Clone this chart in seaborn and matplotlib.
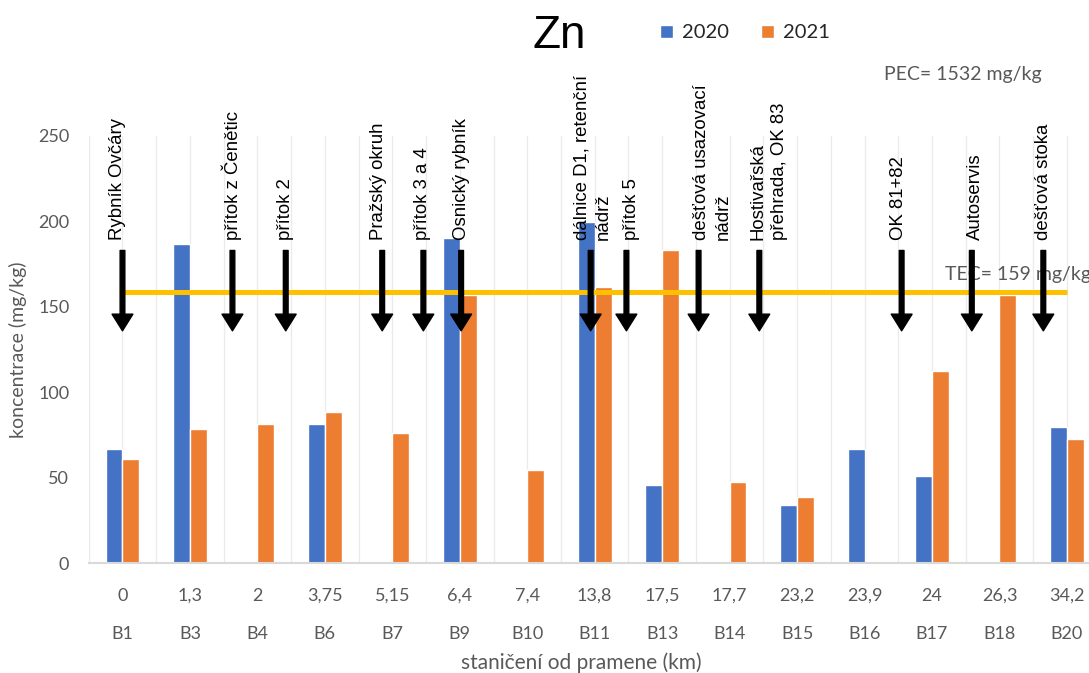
import numpy as np
import pandas as pd
import matplotlib
matplotlib.use("Agg")
import matplotlib.pyplot as plt
import seaborn as sns

# --- data -------------------------------------------------------------
stations = ["B1", "B3", "B4", "B6", "B7", "B9", "B10", "B11",
            "B13", "B14", "B15", "B16", "B17", "B18", "B20"]
km = ["0", "1,3", "2", "3,75", "5,15", "6,4", "7,4", "13,8",
      "17,5", "17,7", "23,2", "23,9", "24", "26,3", "34,2"]
zn_2020 = [67, 187, np.nan, 81.5, np.nan, 190.5, np.nan, 199.5,
           46, np.nan, 34, 67, 51, np.nan, 80]
zn_2021 = [61, 78.5, 81.5, 88.5, 76.5, 157, 54.5, 161.5,
           183.5, 47.5, 39, np.nan, 112.5, 157, 73]
years = ["2020", "2021"]
TEC = 159
PEC = 1532

sources = ["Rybník Ovčáry", "přítok z Čenětic", "přítok 2", "Pražský okruh",
           "přítok 3 a 4", "Osnický rybník", "dálnice D1, retenční\nnádrž",
           "přítok 5", "dešťová usazovací\nnádrž", "Hostivařská\npřehrada, OK 83",
           "OK 81+82", "Autoservis", "dešťová stoka"]

# where each inflow / source enters the stream, in station-axis units
source_arrow_x = [0.0, 1.63, 2.42, 3.85, 4.46, 5.02, 6.94, 7.47,
                  8.54, 9.44, 11.55, 12.59, 13.65]
source_label_x = [-0.07, 1.62, 2.41, 3.79, 4.45, 5.03, 6.97, 7.54,
                  8.75, 9.58, 11.51, 12.64, 13.65]

df = pd.DataFrame({
    "station": stations * 2,
    "year": [years[0]] * len(stations) + [years[1]] * len(stations),
    "zn": zn_2020 + zn_2021,
}).dropna()

# --- style ------------------------------------------------------------
sns.set_theme(style="white")
plt.rcParams["font.family"] = ["Lato", "DejaVu Sans"]
GREY = "#595959"
BLUE = "#4472C4"
ORANGE = "#ED7D31"
ARIAL = ["Liberation Sans", "DejaVu Sans"]

fig = plt.figure(figsize=(10.89, 6.73), dpi=100)
ax = fig.add_axes([0.0815, 0.163, 0.9292, 0.635])

sns.barplot(data=df, x="station", y="zn", hue="year", order=stations,
            hue_order=years, palette=[BLUE, ORANGE], width=0.5,
            saturation=1, errorbar=None, ax=ax, zorder=2)

ax.set_xlim(-0.5, len(stations) - 0.5)
ax.set_ylim(0, 250)
ax.set_yticks(np.arange(0, 251, 50))
ax.set_xticks(range(len(stations)))
ax.set_xticklabels([f"{k}\n{s}" for k, s in zip(km, stations)],
                   linespacing=2.7)
ax.set_xticks(np.arange(-0.5, len(stations), 1), minor=True)

ax.tick_params(axis="y", length=0, pad=14, labelsize=13, labelcolor=GREY)
ax.tick_params(axis="x", which="major", length=0, pad=17.5,
               labelsize=13, labelcolor=GREY)
ax.tick_params(axis="x", which="minor", length=59, width=1.2,
               color="#d9d9d9", direction="out")

ax.grid(False)
ax.grid(True, axis="x", which="both", color="#ebebeb", lw=1)
ax.set_axisbelow(True)

for side in ("left", "top", "right"):
    ax.spines[side].set_visible(False)
ax.spines["bottom"].set_color("#d9d9d9")
ax.spines["bottom"].set_linewidth(1.5)

ax.set_xlabel("")
ax.set_ylabel("")
fig.text(18 / 1089, 1 - 350 / 673, "koncentrace (mg/kg)", rotation=90,
         ha="center", va="center", fontsize=14, color=GREY)
fig.text(581 / 1089, 1 - 663 / 673, "staničení od pramene (km)",
         ha="center", va="center", fontsize=15, color=GREY)

# threshold effect concentration line
ax.hlines(TEC, 0, len(stations) - 1, color="#FFC000", lw=3.6, zorder=3)
ax.text(12.19, 168.7, f"TEC= {TEC} mg/kg", ha="left", va="center",
        fontsize=14, color=GREY, zorder=3)
ax.text(11.29, 285.7, f"PEC= {PEC} mg/kg", ha="left", va="center",
        fontsize=14, color=GREY)

# sources of pollution along the stream
for ax_x, lx, name in zip(source_arrow_x, source_label_x, sources):
    ax.annotate("", xy=(ax_x, 136), xytext=(ax_x, 183),
                arrowprops=dict(facecolor="black", edgecolor="black",
                                width=3.4, headwidth=15, headlength=12,
                                shrink=0),
                zorder=5, annotation_clip=False)
    ax.text(lx, 189, name, rotation=90, ha="center", va="bottom",
            multialignment="left", linespacing=1.35, fontsize=13.4,
            family=ARIAL, color="black", zorder=5)

fig.text(559 / 1089, 1 - 36 / 673, "Zn", ha="center", va="center",
         fontsize=33, family=ARIAL, color="black")

sns.move_legend(ax, loc="center", bbox_to_anchor=(745 / 1089, 1 - 33 / 673),
                bbox_transform=fig.transFigure, ncol=2, frameon=False,
                title=None, fontsize=14.5, handlelength=0.65,
                handleheight=0.65, handletextpad=0.45, columnspacing=1.6)

fig.savefig("out.png", dpi=100)
